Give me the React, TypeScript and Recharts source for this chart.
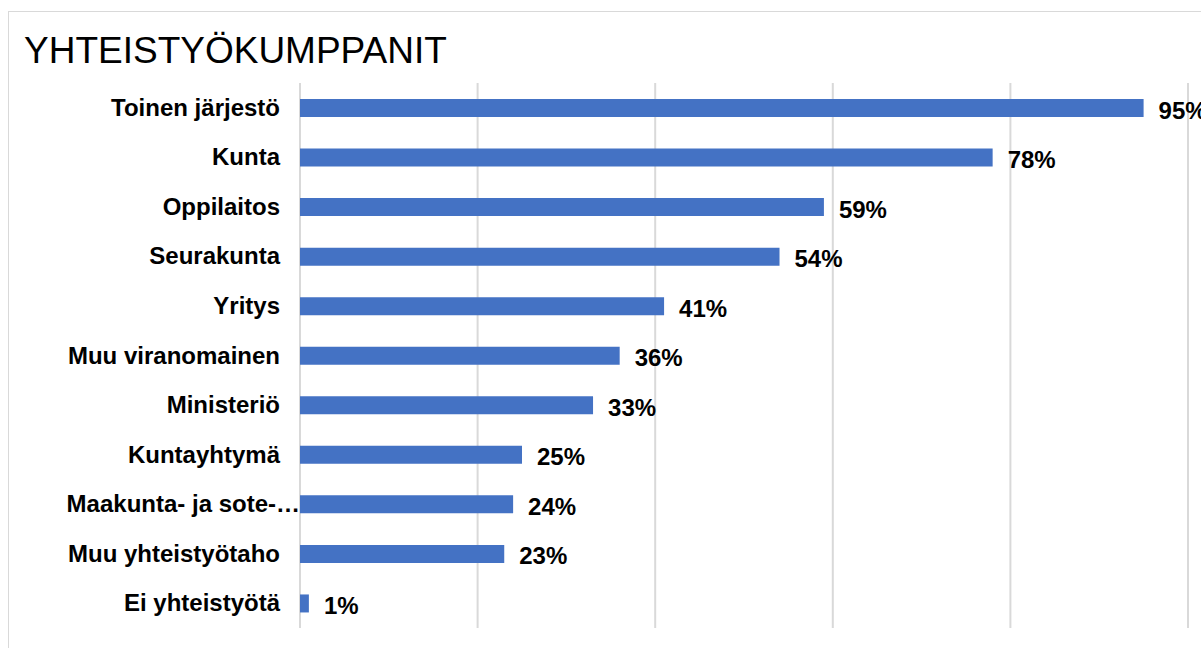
import { BarChart, Bar, XAxis, YAxis, CartesianGrid, LabelList } from "recharts";

const categories = [
  "Toinen järjestö",
  "Kunta",
  "Oppilaitos",
  "Seurakunta",
  "Yritys",
  "Muu viranomainen",
  "Ministeriö",
  "Kuntayhtymä",
  "Maakunta- ja sote-…",
  "Muu yhteistyötaho",
  "Ei yhteistyötä",
];

const shares = [95, 78, 59, 54, 41, 36, 33, 25, 24, 23, 1];

const xTicks = [0, 20, 40, 60, 80, 100];

const data = categories.map((name, i) => ({ name, value: shares[i] }));

const font = "'Liberation Sans', Arial, sans-serif";

// truncated label runs up to the axis like in the original
const CategoryTick = (props: any) => {
  const { x, y, payload } = props;
  const label = String(payload.value);
  const shift = label.endsWith("…") ? 20 : 0;
  return (
    <text
      x={x + shift}
      y={y}
      dy={8}
      textAnchor="end"
      fill="#000"
      fontFamily={font}
      fontSize={24}
      fontWeight={700}
    >
      {label}
    </text>
  );
};

export default function App() {
  return (
    <div style={{ position: "absolute", left: 0, top: 0, width: 1201, height: 648, overflow: "hidden", background: "#fff" }}>
      <div
        style={{
          position: "absolute",
          left: 8,
          top: 11,
          width: 1220,
          height: 700,
          border: "1px solid #d9d9d9",
          boxSizing: "border-box",
        }}
      />
      <div
        style={{
          position: "absolute",
          left: 24,
          top: 32,
          fontFamily: font,
          fontSize: 37,
          color: "#000",
          lineHeight: "37px",
          whiteSpace: "nowrap",
        }}
      >
        YHTEISTYÖKUMPPANIT
      </div>
      <div style={{ position: "absolute", left: 0, top: 0 }}>
        <BarChart
          width={1201}
          height={648}
          data={data}
          layout="vertical"
          margin={{ top: 83, right: 13, bottom: 20, left: 0 }}
        >
          <CartesianGrid horizontal={false} vertical={true} stroke="#d9d9d9" strokeWidth={2} />
          <XAxis type="number" domain={[0, 100]} ticks={xTicks} hide />
          <YAxis
            type="category"
            dataKey="name"
            width={300}
            axisLine={false}
            tickLine={false}
            tickSize={6}
            tickMargin={14}
            interval={0}
            tick={<CategoryTick />}
          />
          <Bar dataKey="value" fill="#4472c4" barSize={18} isAnimationActive={false}>
            <LabelList
              dataKey="value"
              position="right"
              offset={15}
              formatter={(v: number) => `${v}%`}
              style={{ fill: "#000", fontFamily: font, fontSize: 24, fontWeight: 700, transform: "translateY(2px)" }}
            />
          </Bar>
        </BarChart>
      </div>
    </div>
  );
}
